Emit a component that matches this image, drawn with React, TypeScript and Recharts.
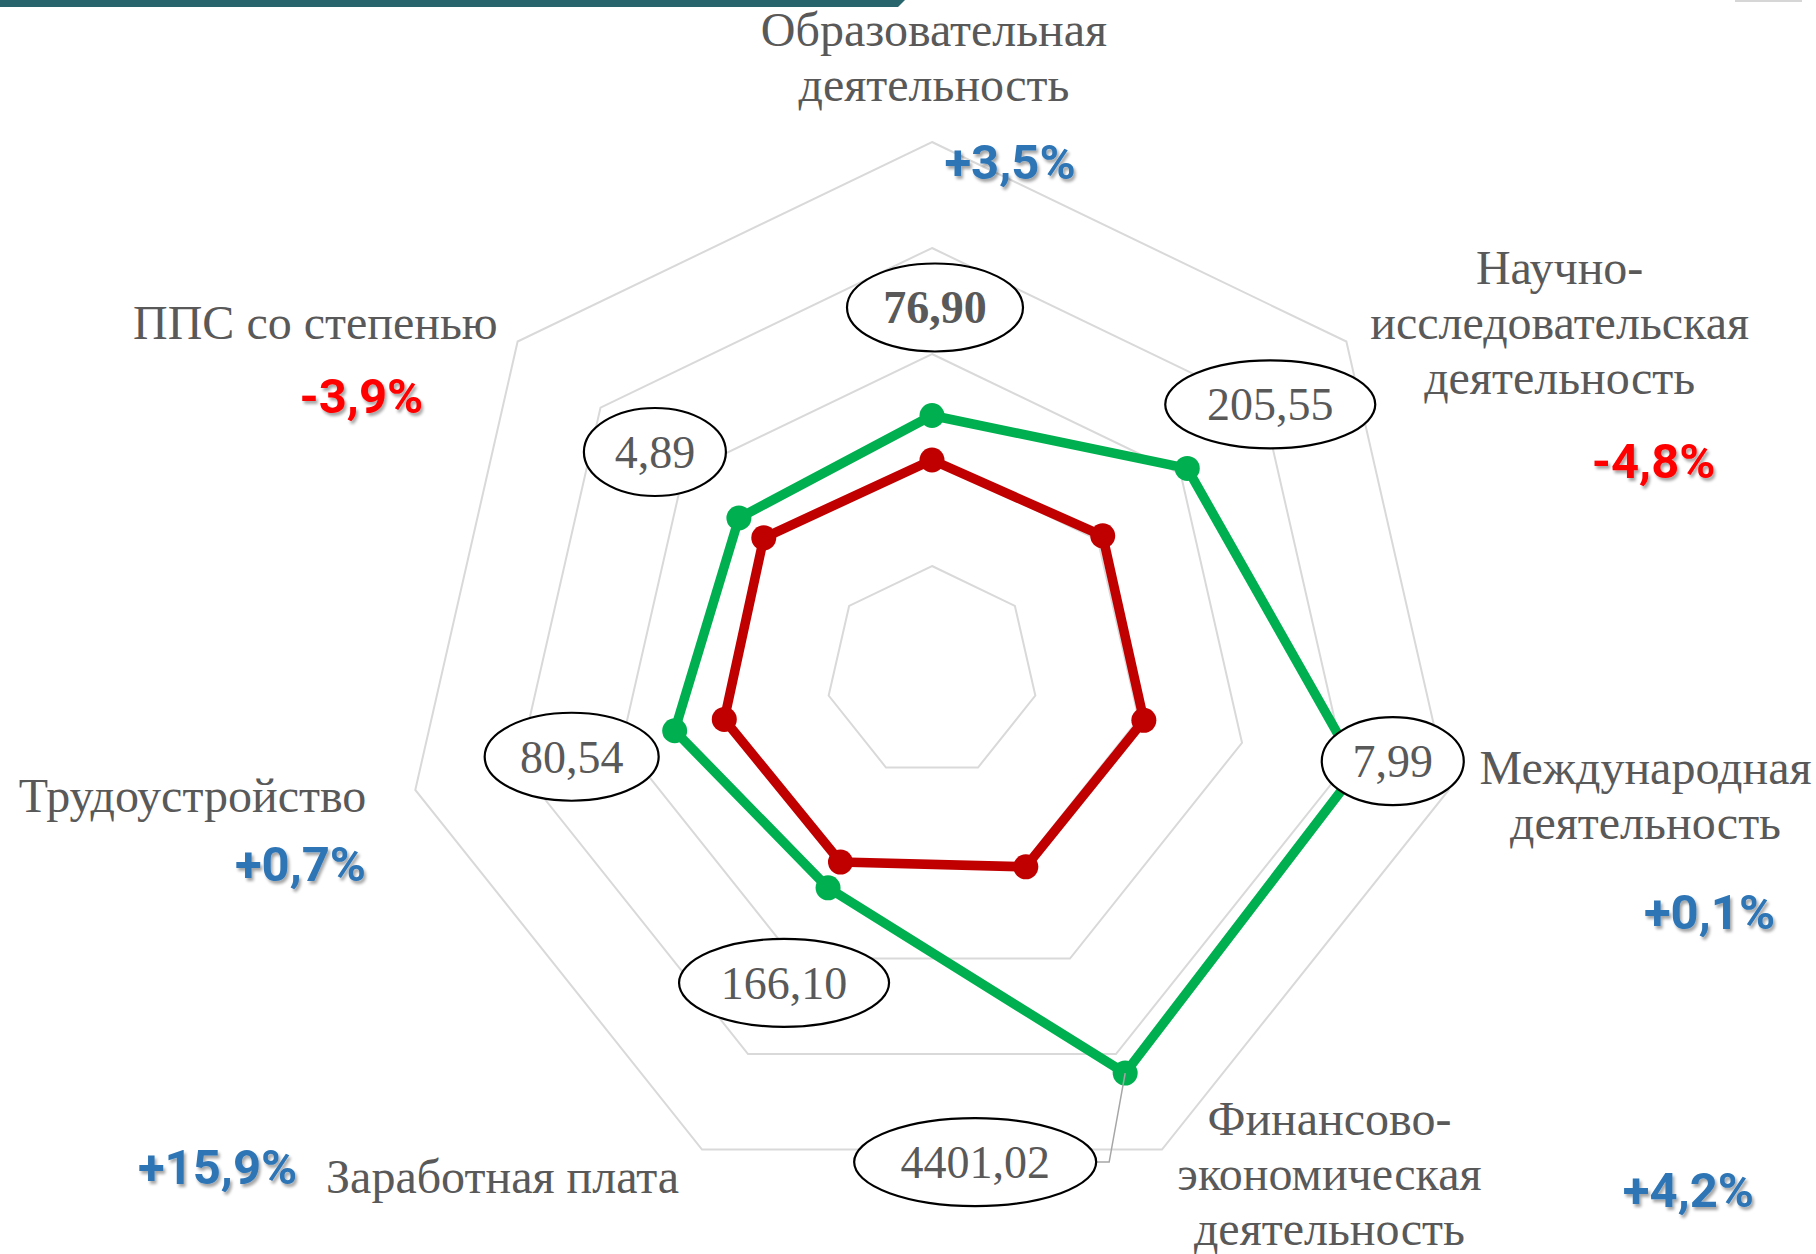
import { RadarChart, Radar, PolarGrid, PolarAngleAxis, PolarRadiusAxis, LabelList } from "recharts";

const categories = [
  "Образовательная деятельность",
  "Научно-исследовательская деятельность",
  "Международная деятельность",
  "Финансово-экономическая деятельность",
  "Заработная плата",
  "Трудоустройство",
  "ППС со степенью",
];
const categoryLines = [
  ["Образовательная", "деятельность"],
  ["Научно-", "исследовательская", "деятельность"],
  ["Международная", "деятельность"],
  ["Финансово-", "экономическая", "деятельность"],
  ["Заработная плата"],
  ["Трудоустройство"],
  ["ППС со степенью"],
];
// normalised index (radar scale 0..5)
const prevIndex = [2.0, 2.06, 2.05, 2.04, 1.99, 2.01, 2.03];
const currIndex = [2.42, 3.08, 4.12, 4.2, 2.26, 2.49, 2.33];
const valueLabels = ["76,90", "205,55", "7,99", "4401,02", "166,10", "80,54", "4,89"];
const changeLabels = ["+3,5%", "-4,8%", "+0,1%", "+4,2%", "+15,9%", "+0,7%", "-3,9%"];

const data = categories.map((category, i) => ({
  category,
  prev: prevIndex[i],
  curr: currIndex[i],
}));

const SERIF = '"Liberation Serif", "Times New Roman", serif';
const SANS = 'Roboto, "Open Sans", sans-serif';
const GREY_TEXT = "#595959";

// placement of axis texts, relative to the angle-axis tick point
const catOffset = [
  [2, -88], [207, -53], [189, -8], [164, -22], [-196, 36], [-215, 20], [-196, 2],
];
const pctOffset = [
  [78, 45], [301, 141], [253, 137], [523, 50], [-481, 27], [-107, 89], [-150, 76],
];
// value ovals, relative to the green point
const ovalOffset = [
  [3, -108], [83, -64], [35, -8], [-150, 89], [-44, 95], [-103, 26], [-84, -66],
];
const ovalRx = [88, 105, 71, 121, 105, 87, 71];

function CategoryTick(props: any) {
  const { x, y } = props;
  const i = props.index ?? props.payload?.index ?? 0;
  const lines = categoryLines[i];
  const [cdx, cdy] = catOffset[i];
  const [pdx, pdy] = pctOffset[i];
  const pct = changeLabels[i];
  return (
    <g>
      <text
        x={x + cdx}
        y={y + cdy}
        textAnchor="middle"
        fontFamily={SERIF}
        fontSize={48}
        fill={GREY_TEXT}
      >
        {lines.map((line, k) => (
          <tspan key={k} x={x + cdx} dy={k === 0 ? 0 : 55}>
            {line}
          </tspan>
        ))}
      </text>
      <text
        x={x + pdx}
        y={y + pdy}
        textAnchor="middle"
        fontFamily={SANS}
        fontWeight={700}
        fontSize={49}
        fill={pct.startsWith("-") ? "#FF0000" : "#2E75B6"}
        filter="url(#pctShadow)"
      >
        {pct}
      </text>
    </g>
  );
}

function ValueLabel(props: any) {
  const { x, y, index } = props;
  if (x == null || y == null) return null;
  const [dx, dy] = ovalOffset[index];
  const cx = x + dx;
  const cy = y + dy;
  const rx = ovalRx[index];
  return (
    <g>
      {index === 3 && (
        <polyline
          points={`${cx + rx},${cy} ${cx + rx + 13},${cy} ${x},${y}`}
          stroke="#A6A6A6"
          strokeWidth={1.5}
          fill="none"
        />
      )}
      <ellipse cx={cx} cy={cy} rx={rx} ry={44} fill="#fff" stroke="#000" strokeWidth={2.2} />
      <text
        x={cx}
        y={cy + 16}
        textAnchor="middle"
        fontFamily={SERIF}
        fontSize={46}
        fontWeight={index === 0 ? 700 : 400}
        fill={GREY_TEXT}
      >
        {valueLabels[index]}
      </text>
    </g>
  );
}

const makeDot = (color: string) => (p: any) => (
  <circle key={`dot-${color}-${p.index}`} cx={p.cx} cy={p.cy} r={12.5} fill={color} stroke="none" />
);

export default function App() {
  return (
    <div style={{ width: 1816, height: 1254, background: "#fff", position: "relative", overflow: "hidden" }}>
      <style>{"body{margin:0}"}</style>
      <svg width={1816} height={10} style={{ position: "absolute", left: 0, top: 0 }}>
        <polygon points="0,0 905,0 898,7 0,7" fill="#27646C" />
        <rect x={1735} y={0} width={67} height={2} fill="#D6D6D6" />
      </svg>
      <RadarChart
        width={1816}
        height={1254}
        data={data}
        cx={932}
        cy={672}
        outerRadius={530}
        margin={{ top: 0, right: 0, bottom: 0, left: 0 }}
      >
        <defs>
          <filter id="pctShadow" x="-20%" y="-20%" width="140%" height="170%">
            <feDropShadow dx={2} dy={3} stdDeviation={1.8} floodColor="#000" floodOpacity={0.35} />
          </filter>
        </defs>
        <PolarGrid gridType="polygon" radialLines={false} stroke="#D9D9D9" strokeWidth={2} />
        <PolarRadiusAxis domain={[0, 5]} tickCount={6} axisLine={false} tick={false} />
        <PolarAngleAxis dataKey="category" tick={CategoryTick} tickLine={false} axisLine={false} />
        <Radar
          dataKey="prev"
          stroke="#C00000"
          strokeWidth={9.5}
          strokeLinejoin="round"
          fill="none"
          fillOpacity={0}
          dot={makeDot("#C00000")}
          isAnimationActive={false}
        />
        <Radar
          dataKey="curr"
          stroke="#00B050"
          strokeWidth={9.5}
          strokeLinejoin="round"
          fill="none"
          fillOpacity={0}
          dot={makeDot("#00B050")}
          isAnimationActive={false}
        >
          <LabelList dataKey="curr" content={ValueLabel} />
        </Radar>
      </RadarChart>
    </div>
  );
}
